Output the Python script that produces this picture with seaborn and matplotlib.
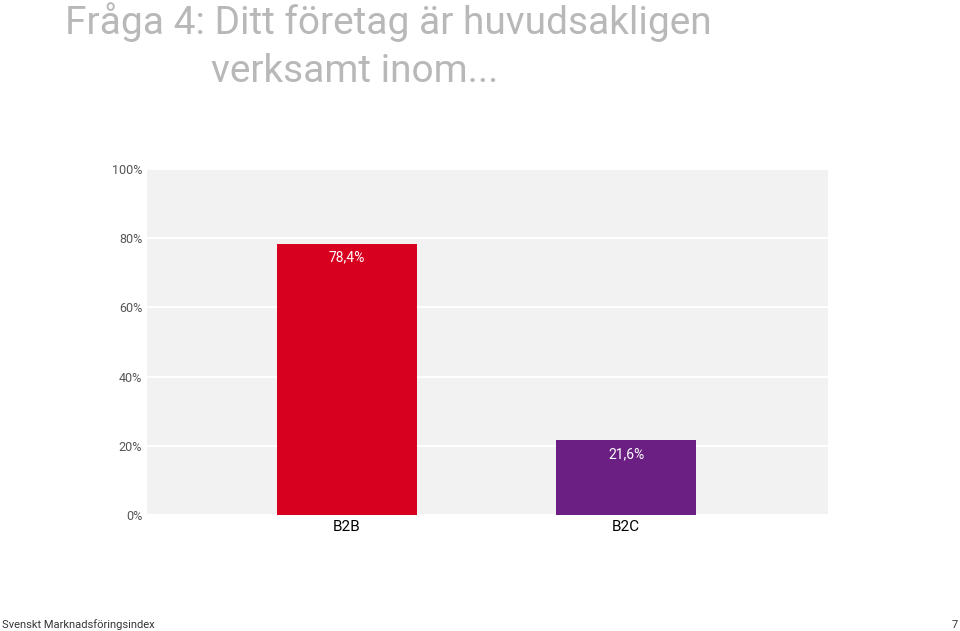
import matplotlib
matplotlib.use("Agg")
import matplotlib.pyplot as plt
import seaborn as sns
import pandas as pd

categories = ["B2B", "B2C"]
values = [78.4, 21.6]
labels = ["78,4%", "21,6%"]
colors = ["#d7001f", "#6b1f82"]
yticks = [0, 20, 40, 60, 80, 100]

df = pd.DataFrame({"cat": categories, "val": values})
fig = plt.figure(figsize=(9.6, 6.31), dpi=100)
ax = fig.add_axes([147/960, 1-515/631, 681/960, 346/631])
ax.set_facecolor("#f2f2f2")
sns.barplot(data=df, x="cat", y="val", hue="cat", palette=colors, width=0.5,
            legend=False, ax=ax, zorder=3, saturation=1)
ax.set_xlim(-0.717, 1.724)
ax.set_ylim(0, 100)
ax.set_yticks(yticks)
ax.set_yticklabels([f"{t}%" for t in yticks], color="#555555", fontsize=9, family="Roboto")
ax.tick_params(axis="both", length=0)
ax.tick_params(axis="x", labelsize=11)
for l in ax.get_xticklabels():
    l.set_family("Roboto")
ax.set_xlabel(""); ax.set_ylabel("")
ax.grid(axis="y", color="white", linewidth=1.5, zorder=1)
for s in ax.spines.values():
    s.set_visible(False)
for i, (v, t) in enumerate(zip(values, labels)):
    ax.text(i, v - 2, t, ha="center", va="top", color="white", fontsize=10, family="Roboto")

fig.text(388/960, 1-22/631, "Fråga 4: Ditt företag är huvudsakligen", ha="center", va="center",
         fontsize=28, color="#b8b8b8", family="Roboto")
fig.text(355/960, 1-72/631, "verksamt inom...", ha="center", va="center",
         fontsize=28, color="#b8b8b8", family="Roboto")
fig.text(2/960, 1-625/631, "Svenskt Marknadsföringsindex", ha="left", va="center",
         fontsize=8, color="#333333", family="Roboto")
fig.text(958/960, 1-625/631, "7", ha="right", va="center", fontsize=8, color="#333333", family="Roboto")
fig.savefig("out.png", dpi=100)
